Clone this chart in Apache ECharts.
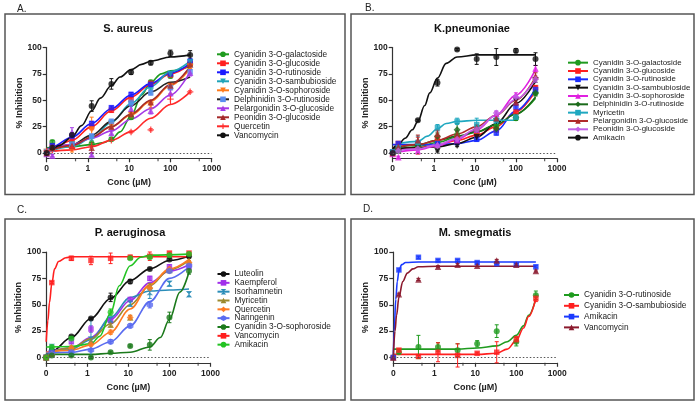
<!DOCTYPE html>
<html><head><meta charset="utf-8">
<script src="https://cdn.jsdelivr.net/npm/echarts@6/dist/echarts.min.js"></script>
<style>html,body{margin:0;padding:0;background:#fff}#c{width:700px;height:405px}</style>
</head><body><div id="c"></div>
<script>
// ---------- shared ----------
const CONC = [0, 0.137, 0.41, 1.23, 3.7, 11.1, 33.3, 100, 300]; // µM ("0" is drawn at the axis' 0 tick)
const X_TICK_LABELS = ['0', '1', '10', '100', '1000'];
const X_MINOR = [0.5, 5, 50, 500];
const Y_TICKS = [0, 25, 50, 75, 100];
const titles = ['S. aureus', 'K.pneumoniae', 'P. aeruginosa', 'M. smegmatis'];
const panelLabels = ['A.', 'B.', 'C.', 'D.'];

// ---------- Panel A : S. aureus ----------
const aNames = ['Cyanidin 3-O-galactoside','Cyanidin 3-O-glucoside','Cyanidin 3-O-rutinoside','Cyanidin 3-O-sambubioside','Cyanidin 3-O-sophoroside','Delphinidin 3-O-rutinoside','Pelargonidin 3-O-glucoside','Peonidin 3-O-glucoside','Quercetin','Vancomycin'];
const aValues = [
  [0, 10.5, 6, 9, 13, 34, 67, 73, 84],
  [0, 6, 12, 25, 40.5, 51, 66, 74, 85],
  [1, 7, 16, 28, 43, 55.5, 65, 75, 87],
  [1, 3, 8, 14, 28, 46, 59, 75, 86],
  [1, 4, 3, 22, 26, 36, 45, 63, 82],
  [1, 4, 8, 16, 30, 48, 57, 62, 77],
  [-1, -2.5, 20, -1.5, 19, 42, 40, 57, 76],
  [0, 5, 7, 5, 25, 37, 48, 64, 84],
  [2, 3, 5, 7, 12, 20, 22, 51, 58],
  [0, 5, 17, 44.5, 65.5, 76.5, 85.5, 94.5, 93]
];
const aErrors = [
  [0, 1.5, 1, 1, 1.5, 2, 2, 2, 2],
  [0, 1, 2, 3, 2, 2, 2, 2, 2],
  [0, 1, 3, 2, 1.5, 2, 2, 2, 2],
  [0, 1, 2, 2, 2, 2, 3, 2, 2],
  [0, 1, 2, 12, 2, 3, 3, 3, 2],
  [0, 1, 2, 2, 2, 2, 2, 2, 2],
  [0, 1, 4, 2, 2, 3, 3, 3, 3],
  [0, 1, 2, 5, 2, 2, 2, 2, 2],
  [0, 0, 0, 0, 0, 1, 1, 5, 1],
  [0, 1, 2, 5, 5, 2, 2, 3, 4]
];
const aFits = [
  [[0.1,5],[0.41,6],[1.23,8],[2.5,10],[3.7,13],[6,20],[11.1,35],[20,55],[33.3,67],[60,75],[100,78],[300,82]],
  [[0.1,3],[0.137,5],[0.41,12],[1.23,25],[3.7,40],[11.1,53],[33.3,65],[100,75],[300,84]],
  [[0.1,3],[0.137,6],[0.41,15],[1.23,28],[3.7,42],[11.1,55],[33.3,66],[100,76],[300,85]],
  [[0.1,1],[0.41,6],[1.23,14],[3.7,29],[11.1,47],[33.3,63],[100,77],[300,87]],
  [[0.1,2],[0.41,7],[1.23,15],[3.7,25],[11.1,36],[33.3,49],[100,64],[300,80]],
  [[0.1,2],[0.41,8],[1.23,17],[3.7,30],[11.1,45],[33.3,58],[100,67],[300,72]],
  [[0.1,3],[0.41,8],[1.23,14],[3.7,21],[11.1,32],[33.3,42],[100,55],[300,77]],
  [[0.1,2],[0.41,7],[1.23,15],[3.7,25],[11.1,37],[33.3,50],[100,65],[300,82]],
  [[0.1,1],[0.41,3],[1.23,6],[3.7,12],[11.1,20],[33.3,33],[100,46],[300,58]],
  [[0.1,2],[0.137,4],[0.2,7],[0.41,15],[0.7,26],[1.23,40],[2,52],[3.7,64],[6,72],[11.1,79],[20,84],[33.3,87],[100,91],[300,93]]
];

// ---------- Panel B : K. pneumoniae ----------
const bNames = ['Cyanidin 3-O-galactoside','Cyanidin 3-O-glucoside','Cyanidin 3-O-rutinoside','Cyanidin 3-O-sambubioside','Cyanidin 3-O-sophoroside','Delphinidin 3-O-rutinoside','Myricetin','Pelargonidin 3-O-glucoside','Peonidin 3-O-glucoside','Amikacin'];
const bValues = [
  [0, 2, 7, 11, 17, 19, 25, 33, 57],
  [0, 9, 7, 14, 13, 18, 22, 39, 62],
  [1, 9, 9, 9, 10, 13, 19, 44, 60],
  [0, 3, 5, 2, 7, 15, 30, 50, 69],
  [-1, -4, 2, 8, 12, 22, 37, 55, 80],
  [0, 3, 7, 16, 22, 22, 23, 34, 57],
  [1, 5, 10, 24, 30, 27, 31, 34, null],
  [0, 6, 12, 18, 18, 24, 33, 48, 73],
  [0, 2, 4, 7, 13, 22, 38, 53, 70],
  [0, null, 31, 66.5, 98, 89, 91, 97, 89]
];
const bErrors = [
  [0, 1, 1, 2, 3, 3, 2, 2, 2],
  [0, 2, 8, 7, 2, 3, 2, 2, 2],
  [0, 1, 1, 1, 1, 2, 2, 3, 3],
  [0, 1, 1, 1, 1, 2, 2, 2, 2],
  [0, 1, 1, 1, 1, 2, 2, 2, 3],
  [0, 1, 2, 3, 6, 4, 3, 3, 3],
  [0, 1, 6, 3, 3, 6, 3, 2, 0],
  [0, 1, 5, 4, 3, 3, 3, 3, 3],
  [0, 1, 1, 1, 2, 2, 2, 2, 3],
  [0, 0, 1, 3, 1, 5, 8, 2, 6]
];
const bFits = [
  [[0.1,3],[0.41,6],[1.23,10],[3.7,15],[11.1,20],[33.3,27],[100,37],[300,52]],
  [[0.1,3],[0.41,5],[1.23,8],[3.7,12],[11.1,17],[33.3,25],[100,39],[300,59]],
  [[0.1,8],[1.23,8],[3.7,9],[11.1,12],[33.3,21],[100,40],[300,61]],
  [[0.1,4],[0.41,5],[1.23,6],[3.7,9],[11.1,15],[33.3,28],[100,47],[300,68]],
  [[0.1,0],[0.41,3],[1.23,7],[3.7,13],[11.1,22],[33.3,36],[100,55],[300,79]],
  [[0.1,4],[0.41,8],[1.23,12],[3.7,16],[11.1,20],[33.3,27],[100,37],[300,53]],
  [[0.137,9],[0.41,11],[0.7,16],[1.23,23],[2,28],[3.7,30],[11.1,31],[33.3,31],[100,31]],
  [[0.1,5],[0.41,8],[1.23,12],[3.7,18],[11.1,25],[33.3,36],[100,50],[300,72]],
  [[0.1,2],[0.41,4],[1.23,8],[3.7,14],[11.1,23],[33.3,36],[100,51],[300,70]],
  [[0.1,4],[0.137,8],[0.2,14],[0.3,22],[0.41,30],[0.6,45],[0.8,57],[1.23,71],[2,85],[3.7,91],[11.1,93],[300,93]]
];

// ---------- Panel C : P. aeruginosa ----------
const cNames = ['Luteolin','Kaempferol','Isorhamnetin','Myricetin','Quercetin','Naringenin','Cyanidin 3-O-sophoroside','Vancomycin','Amikacin'];
const cValues = [
  [0, 7, 20, 37, 57, 72, 84, 93, 96],
  [0, 3, 15, 27, 35, 55, 75, 86, 86],
  [0, 10, 5, 17, 36, 51, 62, 70, 60],
  [0, 4, 10, 16, 31, 38, 68, 83, 92],
  [0, 3, 9, 12, 24, 38, 66, 84, 90],
  [0, 5, 5, 7, 15, 30, 50, 82, 87],
  [0, 2, 2, 0, 5, 11, 12, 38, 82],
  [0, 71, 94, 92, 94, 95, 96, 99, 99],
  [0, 10, 18, null, 43, 94, 95, 97, 98]
];
const cErrors = [
  [0, 1, 1, 1, 4, 2, 1, 1, 1],
  [0, 1, 2, 3, 2, 2, 2, 2, 2],
  [0, 1, 1, 18, 2, 2, 6, 2, 2],
  [0, 1, 1, 2, 2, 2, 2, 2, 2],
  [0, 1, 1, 1, 2, 2, 2, 2, 2],
  [0, 1, 1, 1, 2, 2, 3, 2, 2],
  [0, 0, 1, 1, 1, 1, 5, 5, 3],
  [0, 1, 2, 4, 5, 2, 4, 1, 1],
  [0, 1, 1, 0, 3, 1, 1, 1, 1]
];
const cFits = [
  [[0.1,3],[0.137,6],[0.41,19],[1.23,37],[3.7,56],[11.1,73],[33.3,84],[100,92],[300,96]],
  [[0.1,5],[0.41,9],[1.23,19],[3.7,36],[11.1,54],[33.3,71],[100,82],[300,88]],
  [[0.1,4],[0.41,8],[1.23,17],[3.7,38],[11.1,57],[33.3,63],[100,64],[300,65]],
  [[0.1,4],[0.41,9],[1.23,18],[3.7,32],[11.1,50],[33.3,68],[100,83],[300,92]],
  [[0.1,5],[0.41,7],[1.23,12],[3.7,24],[11.1,46],[33.3,69],[100,84],[300,93]],
  [[0.1,4],[0.41,5],[1.23,8],[3.7,15],[11.1,30],[33.3,53],[100,75],[300,86]],
  [[0.1,3],[1.23,3],[3.7,4],[11.1,5],[33.3,10],[60,19],[100,36],[180,62],[300,81]],
  [[0.1,15],[0.11,35],[0.12,52],[0.137,70],[0.16,84],[0.2,91],[0.3,94.5],[0.41,95.5],[300,95.5]],
  [[0.1,10],[0.41,10.5],[1.23,13],[2,20],[3.7,42],[6,68],[11.1,87],[20,95],[33.3,97],[300,98]]
];

// ---------- Panel D : M. smegmatis ----------
const dNames = ['Cyanidin 3-O-rutinoside','Cyanidin 3-O-sambubioside','Amikacin','Vancomycin'];
const dValues = [
  [0, 5, 10, 10, 7, 13, 25, 15, 59],
  [0, 7, 1, 5, 2, 4, 5, 17, 56],
  [0, 83, 95, 92, 92, 90, 89, 88, 86],
  [0, 60, 74, 86, 88, 87, 92, 88, 82]
];
const dErrors = [
  [0, 1, 11, 4, 6, 3, 6, 4, 4],
  [0, 1, 1, 9, 11, 1, 10, 3, 3],
  [0, 1, 1, 1, 1, 1, 1, 1, 1],
  [0, 1, 1, 1, 1, 1, 1, 1, 1]
];
const dFits = [
  [[0.1,8],[3.7,8],[11.1,9],[33.3,11],[60,15],[100,21],[150,30],[200,40],[300,56]],
  [[0.1,3],[11.1,3],[33.3,4],[60,8],[100,16],[150,28],[200,39],[300,56]],
  [[0.1,1],[0.105,25],[0.115,55],[0.125,72],[0.137,82],[0.16,88],[0.2,90],[0.41,90.5],[300,90.5]],
  [[0.1,1],[0.11,25],[0.12,40],[0.137,57],[0.17,72],[0.22,80],[0.3,84],[0.41,86],[1.23,86.5],[300,86.5]]
];

// ---------- styles ----------
const FONT = '"Liberation Sans", Arial, Helvetica, sans-serif';
const PLUS = 'path://M4,0H6V4H10V6H6V10H4V6H0V4H4Z';
const HEX = 'path://M5,0L9.33,2.5L9.33,7.5L5,10L0.67,7.5L0.67,2.5Z';
const BOWTIE = 'path://M0,0H10L5,5L10,10H0L5,5Z';

const styles = [
  { colors:['#1f9b1f','#ff1f1f','#1a1aff','#1fa3b8','#ff7a1a','#5a8ef0','#a53ae6','#a52a2a','#ff2a2a','#111111'],
    lines:['#1f9b1f','#ff1f1f','#1a1aff','#1fa3b8','#ff7a1a','#222222','#a53ae6','#a52a2a','#ff2a2a','#111111'],
    symbols:['circle','rect','rect','triangle','triangle','rect','triangle','triangle',PLUS,'circle'],
    rot:[0,0,0,180,180,0,0,0,0,0] },
  { colors:['#1f9b1f','#ff1f1f','#1a2cff','#111111','#e020e0','#1a6a1a','#20a8c0','#b02a2a','#c060e6','#111111'],
    lines:['#1f9b1f','#ff1f1f','#1a2cff','#111111','#e020e0','#1a6a1a','#20a8c0','#b02a2a','#c060e6','#111111'],
    symbols:['circle','rect','rect','triangle','triangle','diamond','rect','triangle','diamond','circle'],
    rot:[0,0,0,180,0,0,0,0,0,0] },
  { colors:['#111111','#a030ea','#2a8db8','#9c8a2e','#ff7a22','#5a6cf0','#1c7a1c','#ff1f1f','#22c322'],
    lines:['#111111','#a030ea','#2a8db8','#9c8a2e','#ff7a22','#5a6cf0','#1c7a1c','#ff1f1f','#22c322'],
    symbols:['circle','rect',BOWTIE,'triangle','diamond',HEX,'circle','rect','circle'],
    rot:[0,0,0,0,0,0,0,0,0] },
  { colors:['#1f9b1f','#ff1f1f','#1a3aff','#8b1a2e'],
    lines:['#1f9b1f','#ff1f1f','#1a3aff','#8b1a2e'],
    symbols:['circle','rect','rect','triangle'],
    rot:[0,0,0,0] }
];
const data = [
  {names:aNames, values:aValues, errors:aErrors, fits:aFits},
  {names:bNames, values:bValues, errors:bErrors, fits:bFits},
  {names:cNames, values:cValues, errors:cErrors, fits:cFits},
  {names:dNames, values:dValues, errors:dErrors, fits:dFits}
];
const layout = [
  { grid:{left:46.7, top:47.5, width:165, height:110.8}, legend:{left:216, top:49.8, iw:12, lh:9, gap:0, fs:8.3},
    title:[128,29], label:[17,9], box:[5,14,340,180.5] },
  { grid:{left:392.7, top:47.5, width:164.3, height:110.8}, legend:{left:567, top:58.5, iw:20, lh:8.33, gap:0, fs:7.9},
    title:[472,29], label:[365,8], box:[351,14,343,180.5] },
  { grid:{left:46.2, top:252, width:164.3, height:110.8}, legend:{left:216.5, top:269.6, iw:12, lh:8.83, gap:0, fs:8.3},
    title:[130,233], label:[17,210], box:[5,219,340,181] },
  { grid:{left:393.3, top:252, width:164, height:110.8}, legend:{left:563, top:290.5, iw:15, lh:9, gap:1.8, fs:8.3},
    title:[475,233], label:[363,209], box:[351,219,343,181] }
];

const ZERO_AT = 0.1;               // log-axis position of the "0" tick
const xp = c => (c === 0 ? ZERO_AT : c);
const Y_MIN = -5, Y_MAX = 100;

function errRender(params, api) {
  const x = api.value(0), y = api.value(1), e = api.value(2);
  const t = api.coord([x, y + e]), b = api.coord([x, y - e]);
  const w = 2;
  const st = { stroke: api.visual('color'), lineWidth: 1 };
  return { type:'group', children:[
    {type:'line', shape:{x1:t[0], y1:t[1], x2:b[0], y2:b[1]}, style:st},
    {type:'line', shape:{x1:t[0]-w, y1:t[1], x2:t[0]+w, y2:t[1]}, style:st},
    {type:'line', shape:{x1:b[0]-w, y1:b[1], x2:b[0]+w, y2:b[1]}, style:st}
  ]};
}
function symSize(s) {
  if (s === 'rect') return 5.5;
  if (s === 'circle') return 6;
  if (s === 'triangle') return 6.5;
  if (s === 'diamond') return 7;
  return 6.5;
}

const grids = [], xAxes = [], yAxes = [], legends = [], series = [], graphics = [];
const axisText = {fontFamily:FONT, fontWeight:'bold', fontSize:8.5, color:'#222'};
const axisLineStyle = {color:'#333', width:1.2};

data.forEach((p, gi) => {
  const L = layout[gi], S = styles[gi];
  const P = 'ABCD'[gi] + '|';
  grids.push(Object.assign({}, L.grid));
  xAxes.push({
    type:'log', logBase:10, gridIndex:gi, min:ZERO_AT, max:1000,
    name:'Conc (µM)', nameLocation:'middle', nameGap:20,
    nameTextStyle:{fontFamily:FONT, fontWeight:'bold', fontSize:9, color:'#222'},
    axisLine:{show:true, onZero:false, lineStyle:axisLineStyle},
    axisTick:{show:true, length:4, lineStyle:axisLineStyle},
    axisLabel:Object.assign({margin:6, formatter:v => X_TICK_LABELS[Math.round(Math.log10(v)) + 1]}, axisText),
    splitLine:{show:false}
  });
  yAxes.push({
    type:'value', gridIndex:gi, min:Y_MIN, max:Y_MAX,
    name:'% Inhibition', nameLocation:'middle', nameGap:22,
    nameTextStyle:{fontFamily:FONT, fontWeight:'bold', fontSize:9, color:'#222'},
    axisLine:{show:true, onZero:false, lineStyle:axisLineStyle},
    axisTick:{show:true, length:4, lineStyle:axisLineStyle, customValues:Y_TICKS},
    axisLabel:Object.assign({margin:5, customValues:Y_TICKS}, axisText),
    splitLine:{show:false}
  });
  legends.push({
    orient:'vertical', left:L.legend.left, top:L.legend.top, padding:0,
    itemWidth:L.legend.iw, itemHeight:7, itemGap:L.legend.gap, selectedMode:false,
    data:p.names.map(n => P + n), formatter:n => n.slice(2),
    textStyle:{fontFamily:FONT, fontSize:L.legend.fs, color:'#222', lineHeight:L.legend.lh}
  });
  p.names.forEach((n, i) => {
    const col = S.colors[i], lcol = S.lines[i], sym = S.symbols[i], rot = S.rot[i];
    series.push({
      type:'line', name:P + n, xAxisIndex:gi, yAxisIndex:gi,
      data:p.fits[i].map(d => [d[0], d[1]]),
      smooth:0.35, smoothMonotone:'x', showSymbol:false,
      symbol:sym, symbolRotate:rot, symbolSize:symSize(sym),
      lineStyle:{color:lcol, width:1.6}, itemStyle:{color:col}, z:2, silent:true
    });
    const errData = CONC.map((c, k) => [xp(c), p.values[i][k], p.errors[i][k]])
      .filter(d => d[1] != null && d[2] > 0);
    if (errData.length) series.push({
      type:'custom', name:P + n + ' err', xAxisIndex:gi, yAxisIndex:gi,
      data:errData, renderItem:errRender, encode:{x:0, y:1},
      itemStyle:{color:col}, z:3, silent:true
    });
    series.push({
      type:'scatter', name:P + n + ' pts', xAxisIndex:gi, yAxisIndex:gi,
      data:CONC.map((c, k) => [xp(c), p.values[i][k]]).filter(d => d[1] != null),
      symbol:sym, symbolRotate:rot, symbolSize:symSize(sym),
      itemStyle:{color:col}, z:4, silent:true, clip:false
    });
  });
  // minor x ticks and the dotted zero line
  series.push({
    type:'scatter', name:P + 'minor', xAxisIndex:gi, yAxisIndex:gi,
    data:X_MINOR.map(v => [v, Y_MIN]), symbol:'rect', symbolSize:[1.2, 3], symbolOffset:[0, 1.5],
    itemStyle:{color:'#333'}, clip:false, silent:true, z:1,
    markLine:{silent:true, symbol:['none','none'], label:{show:false},
      lineStyle:{type:[1.5, 2], color:'#555', width:1}, data:[{yAxis:0}]}
  });
  // panel frame, panel letter and title
  graphics.push({type:'rect', shape:{x:L.box[0], y:L.box[1], width:L.box[2], height:L.box[3]},
    style:{fill:'none', stroke:'#555', lineWidth:1.5}, silent:true});
  graphics.push({type:'text', x:L.label[0], y:L.label[1],
    style:{text:panelLabels[gi], font:'10px ' + FONT, fill:'#222', align:'left', verticalAlign:'middle'}});
  graphics.push({type:'text', x:L.title[0], y:L.title[1],
    style:{text:titles[gi], font:'bold 11px ' + FONT, fill:'#111', align:'center', verticalAlign:'middle'}});
});

const chart = echarts.init(document.getElementById('c'), null, {renderer:'canvas', width:700, height:405});
chart.setOption({
  animation:false, backgroundColor:'#ffffff',
  grid:grids, xAxis:xAxes, yAxis:yAxes, legend:legends, series:series, graphic:graphics
});
</script></body></html>
